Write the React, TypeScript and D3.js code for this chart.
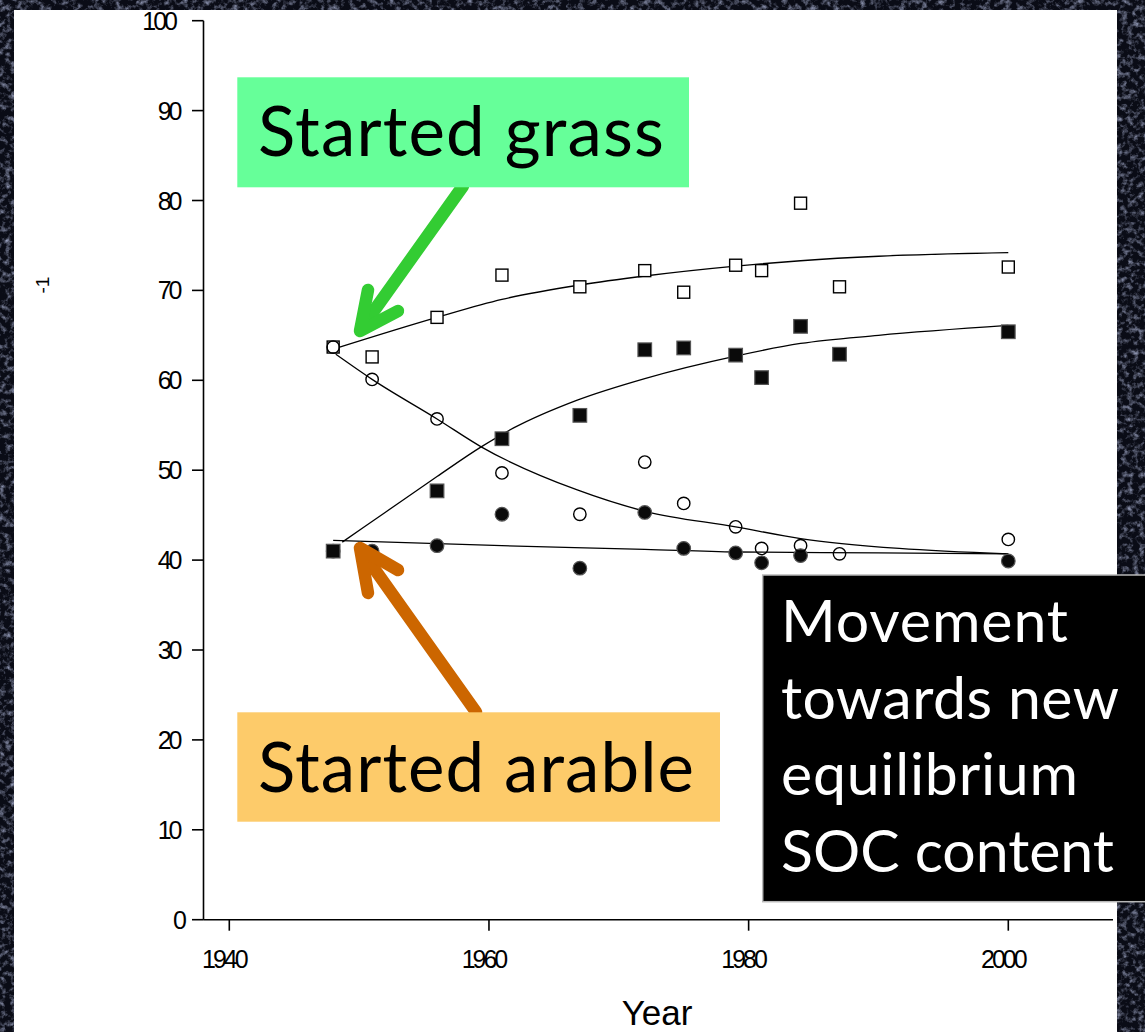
import React from 'react';
import * as d3 from 'd3';

const W = 1145;
const H = 1032;

// Measured soil organic carbon, by sampling year
const sampleYears = [1948, 1951, 1956, 1961, 1967, 1972, 1975, 1979, 1981, 1984, 1987, 2000];
const grassToGrass = [63.7, 62.6, 67.0, 71.7, 70.4, 72.2, 69.8, 72.8, 72.2, 79.7, 70.4, 72.6];
const grassToArable = [63.7, 60.1, 55.7, 49.7, 45.1, 50.9, 46.3, 43.7, 41.3, 41.6, 40.7, 42.3];
const arableToGrassYears = [1948, 1956, 1961, 1967, 1972, 1975, 1979, 1981, 1984, 1987, 2000];
const arableToGrass = [41.0, 47.7, 53.5, 56.1, 63.4, 63.6, 62.8, 60.3, 66.0, 62.9, 65.4];
const arableToArableYears = [1948, 1951, 1956, 1961, 1967, 1972, 1975, 1979, 1981, 1984, 2000];
const arableToArable = [41.0, 41.0, 41.6, 45.1, 39.1, 45.3, 41.3, 40.8, 39.7, 40.5, 39.9];

// Fitted trend lines
const fitGrassYears = [1948.3, 1956, 1961, 1967, 1972, 1979, 1984, 1990, 2000];
const fitGrass = [63.6, 67.0, 69.0, 70.6, 71.6, 72.7, 73.3, 73.8, 74.2];
const fitArableToGrassYears = [1948.7, 1952, 1956, 1959.4, 1961.9, 1966.8, 1972, 1979, 1984, 1990, 2000];
const fitArableToGrass = [42.0, 45.3, 49.3, 52.6, 54.7, 57.8, 60.2, 62.7, 64.1, 65.0, 66.1];
const fitGrassToArableYears = [1948.2, 1951, 1956, 1959.4, 1966.8, 1972.1, 1979, 1984, 1991.6, 2000];
const fitGrassToArable = [62.9, 60.1, 55.7, 52.6, 47.8, 45.4, 43.7, 42.4, 41.3, 40.7];
const fitArableYears = [1948, 1961, 1972, 1979, 1990, 2000];
const fitArable = [42.2, 41.6, 41.2, 40.9, 40.8, 40.7];

const xTicks = [1940, 1960, 1980, 2000];
const yTicks = [0, 10, 20, 30, 40, 50, 60, 70, 80, 90, 100];

const noteLines = ['Movement', 'towards new', 'equilibrium', 'SOC content'];
const noteWidths = [283, 334, 293, 329];

const x = d3.scaleLinear().domain([1940, 2000]).range([229.3, 1008.3]);
const y = d3.scaleLinear().domain([0, 100]).range([919.7, 20.7]);
const axisLeft = 203.5;
const axisRight = 1113;

const trend = d3
  .line<[number, number]>()
  .x((d) => x(d[0]))
  .y((d) => y(d[1]))
  .curve(d3.curveMonotoneX);

const zip = (a: number[], b: number[]) => a.map((v, i) => [v, b[i]] as [number, number]);

const tickFont = "'Liberation Sans', Arial, sans-serif";
const slideFont = "Lato, 'Open Sans', sans-serif";

export default function App() {
  return (
    <svg
      width={W}
      height={H}
      viewBox={`0 0 ${W} ${H}`}
      style={{ position: 'absolute', left: 0, top: 0, display: 'block' }}
    >
      <defs>
        <filter id="sky" x="0" y="0" width="100%" height="100%">
          <feTurbulence type="fractalNoise" baseFrequency="0.18" numOctaves="4" seed="11" result="n" />
          <feColorMatrix
            in="n"
            type="matrix"
            values="0 0 0 0 0.45  0 0 0 0 0.5  0 0 0 0 0.72  1.7 0 0 0 -0.78"
          />
        </filter>
      </defs>

      {/* night-sky backdrop */}
      <rect x={0} y={0} width={W} height={H} fill="#0a0c16" />
      <rect x={0} y={0} width={W} height={H} filter="url(#sky)" />

      {/* white chart panel */}
      <rect x={14} y={10} width={1103} height={H} fill="#ffffff" />

      {/* axes */}
      <g stroke="#000" strokeWidth={1.6} fill="none">
        <line x1={axisLeft} x2={axisLeft} y1={y(100)} y2={y(0)} />
        <line x1={axisLeft} x2={axisRight} y1={y(0)} y2={y(0)} />
        {yTicks.map((t) => (
          <line key={t} x1={axisLeft - 11.5} x2={axisLeft} y1={y(t)} y2={y(t)} />
        ))}
        {xTicks.map((t) => (
          <line key={t} x1={x(t)} x2={x(t)} y1={y(0)} y2={y(0) + 11} />
        ))}
      </g>
      <g fontFamily={tickFont} fontSize={25} letterSpacing={-3} fill="#000">
        {yTicks.map((t) => {
          const label = String(t);
          return (
            <text key={t} x={188.5 - 4.5 * label.length} y={y(t) + 9} textAnchor="end">
              {label}
            </text>
          );
        })}
        {xTicks.map((t) => (
          <text key={t} x={x(t) - 5.5} y={968} textAnchor="middle">
            {t}
          </text>
        ))}
      </g>
      <text x={657} y={1025} textAnchor="middle" fontFamily={tickFont} fontSize={35} fill="#000">
        Year
      </text>
      <text
        transform="translate(49,285) rotate(-90)"
        textAnchor="middle"
        fontFamily={tickFont}
        fontSize={19}
        fill="#000"
      >
        -1
      </text>

      {/* fitted trends */}
      <g fill="none" stroke="#000" strokeWidth={1.3}>
        <path d={trend(zip(fitGrassYears, fitGrass)) || ''} />
        <path d={trend(zip(fitArableToGrassYears, fitArableToGrass)) || ''} />
        <path d={trend(zip(fitGrassToArableYears, fitGrassToArable)) || ''} />
        <path d={trend(zip(fitArableYears, fitArable)) || ''} />
      </g>

      {/* observations */}
      <g fill="#fff" stroke="#000" strokeWidth={1.4}>
        {sampleYears.map((yr, i) => (
          <rect key={`gg${yr}`} x={x(yr) - 6} y={y(grassToGrass[i]) - 6} width={12} height={12} />
        ))}
      </g>
      <g fill="#0a0a0a" stroke="#555" strokeWidth={1.2}>
        {arableToArableYears.map((yr, i) => (
          <circle key={`aa${yr}`} cx={x(yr)} cy={y(arableToArable[i])} r={6.8} />
        ))}
        {arableToGrassYears.map((yr, i) => (
          <rect key={`ag${yr}`} x={x(yr) - 6.8} y={y(arableToGrass[i]) - 6.8} width={13.6} height={13.6} />
        ))}
      </g>
      <g fill="none" stroke="#000" strokeWidth={1.4}>
        {sampleYears.map((yr, i) => (
          <circle key={`ga${yr}`} cx={x(yr)} cy={y(grassToArable[i])} r={6.2} />
        ))}
      </g>

      {/* annotation arrows */}
      <g fill="none" strokeWidth={12.5} strokeLinecap="round" strokeLinejoin="round">
        <g stroke="#33cc33">
          <line x1={463} y1={186} x2={361} y2={329} />
          <path d="M368,290 L360,331 L398,311" />
        </g>
        <g stroke="#cc6600">
          <line x1={476} y1={712} x2={361} y2={550} />
          <path d="M398,570 L360,548 L368,593" />
        </g>
      </g>

      {/* annotation boxes */}
      <rect x={237.3} y={77.3} width={451.7} height={110} fill="#66ff99" />
      <text
        x={258}
        y={156}
        fontFamily={slideFont}
        fontSize={69}
        textLength={406}
        lengthAdjust="spacing"
        fill="#000"
      >
        Started grass
      </text>

      <rect x={237.3} y={712.3} width={482.7} height={109.4} fill="#fdcb6a" />
      <text
        x={258}
        y={791.7}
        fontFamily={slideFont}
        fontSize={69}
        textLength={436}
        lengthAdjust="spacing"
        fill="#000"
      >
        Started arable
      </text>

      <rect x={762.7} y={575} width={400} height={326.7} fill="#000" stroke="#b8b8b8" strokeWidth={1.5} />
      <g fontFamily={slideFont} fontSize={59} fill="#fff">
        {noteLines.map((line, i) => (
          <text key={line} x={781} y={642.3 + i * 76.5} textLength={noteWidths[i] + 4} lengthAdjust="spacing">
            {line}
          </text>
        ))}
      </g>
    </svg>
  );
}
